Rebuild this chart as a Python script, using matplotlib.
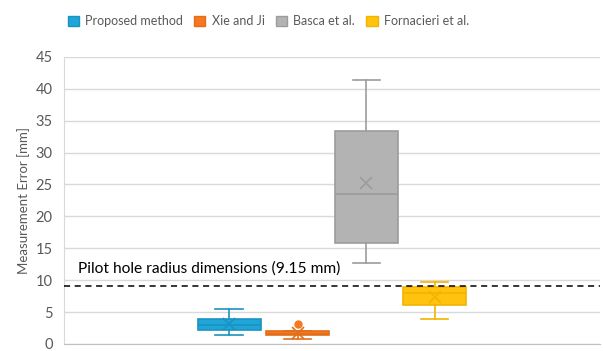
import matplotlib.pyplot as plt
from matplotlib.patches import Patch

plt.rcParams['font.family'] = ['Lato', 'DejaVu Sans']

# Datos
metodos = ['Proposed method', 'Xie and Ji', 'Basca et al.', 'Fornacieri et al.']
minimos = [1.4, 0.8, 12.7, 3.9]
q1 = [2.2, 1.4, 15.8, 6.1]
medianas = [3.0, 1.6, 23.5, 8.0]
q3 = [3.9, 2.0, 33.4, 8.9]
maximos = [5.5, 2.0, 41.4, 9.7]
medias = [3.1, 1.7, 25.2, 7.3]
atipicos = [[], [3.1], [], []]
relleno = ['#1FA5D8', '#F47920', '#B3B3B3', '#FFC20E']
borde = ['#1A93C2', '#E36E1A', '#9C9C9C', '#F2B400']
pilot = 9.15

fig = plt.figure(figsize=(6.03, 3.51), dpi=100)
ax = fig.add_axes([0.106, 0.02, 0.889, 0.818])

for i, nombre in enumerate(metodos):
    stats = [{'whislo': minimos[i], 'q1': q1[i], 'med': medianas[i],
              'q3': q3[i], 'whishi': maximos[i], 'mean': medias[i],
              'fliers': atipicos[i], 'label': nombre}]
    ax.bxp(stats, positions=[i + 1], widths=0.92, patch_artist=True,
           showmeans=True, showfliers=True,
           boxprops=dict(facecolor=relleno[i], edgecolor=borde[i], linewidth=1.2),
           medianprops=dict(color=borde[i], linewidth=1.2),
           whiskerprops=dict(color=borde[i], linewidth=1.2),
           capprops=dict(color=borde[i], linewidth=1.2),
           capwidths=0.4,
           meanprops=dict(marker='x', markeredgecolor=borde[i], markersize=8,
                          markeredgewidth=1.2),
           flierprops=dict(marker='o', markerfacecolor=relleno[i],
                           markeredgecolor=relleno[i], markersize=5))

ax.axhline(pilot, color='black', linestyle='--', linewidth=1.1, dashes=(4, 3), zorder=3)
ax.text(-1.2, pilot + 1.5, 'Pilot hole radius dimensions (9.15 mm)',
        fontsize=11.2, color='black', va='bottom', ha='left')

ax.set_xlim(-1.41, 6.41)
ax.set_ylim(0, 45)
ax.set_yticks(range(0, 46, 5))
ax.set_xticks([])
ax.grid(axis='y', color='#D9D9D9', linewidth=1)
ax.set_axisbelow(True)
for lado in ['top', 'right']:
    ax.spines[lado].set_visible(False)
ax.spines['left'].set_color('#D9D9D9')
ax.spines['bottom'].set_color('#BFBFBF')
ax.tick_params(axis='y', length=0, labelsize=10.5, colors='#595959', pad=8)
ax.set_ylabel('Measurement Error [mm]', fontsize=9.5, color='#595959', labelpad=4)

handles = [Patch(facecolor=relleno[i], edgecolor=borde[i]) for i in range(4)]
fig.legend(handles, metodos, loc='center', bbox_to_anchor=(0.445, 0.94), ncol=4,
           frameon=False, fontsize=9, labelcolor='#595959',
           handlelength=0.9, handleheight=0.9, handletextpad=0.5, columnspacing=0.9)

fig.savefig('out.png', dpi=100)
